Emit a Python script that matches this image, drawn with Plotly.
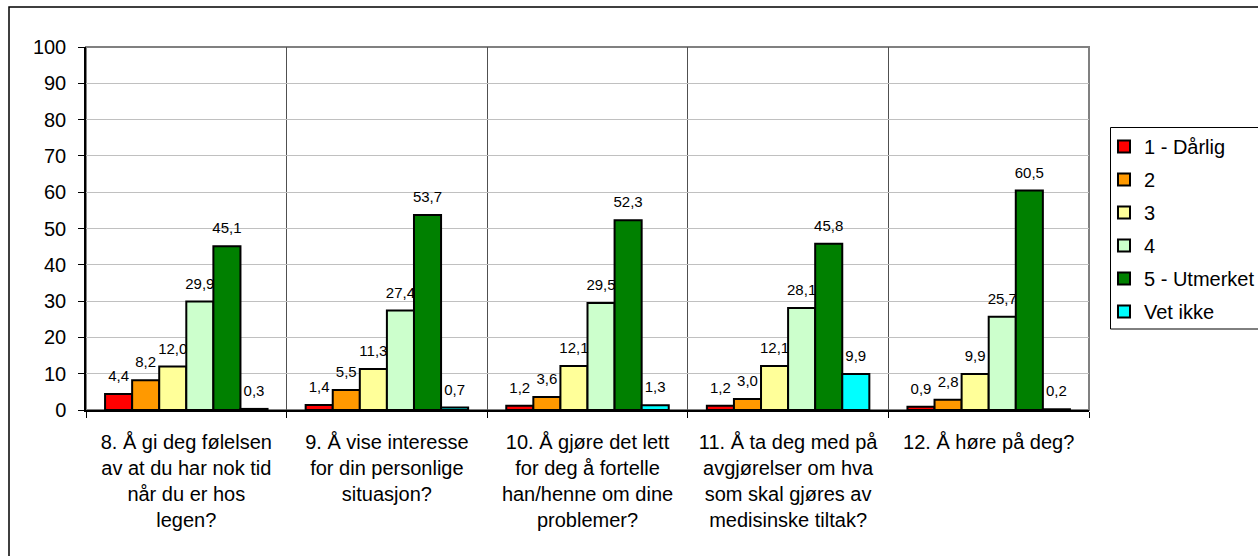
import plotly.graph_objects as go

# Survey results: share of answers (%) per question and rating
questions = [
    "8. Å gi deg følelsen<br>av at du har nok tid<br>når du er hos<br>legen?",
    "9. Å vise interesse<br>for din personlige<br>situasjon?",
    "10. Å gjøre det lett<br>for deg å fortelle<br>han/henne om dine<br>problemer?",
    "11. Å ta deg med på<br>avgjørelser om hva<br>som skal gjøres av<br>medisinske tiltak?",
    "12. Å høre på deg?",
]
series_names = ["1 - Dårlig", "2", "3", "4", "5 - Utmerket", "Vet ikke"]
series_colors = ["#FF0000", "#FF9900", "#FFFF99", "#CCFFCC", "#008000", "#00FFFF"]

rating_1 = [4.4, 1.4, 1.2, 1.2, 0.9]
rating_2 = [8.2, 5.5, 3.6, 3.0, 2.8]
rating_3 = [12.0, 11.3, 12.1, 12.1, 9.9]
rating_4 = [29.9, 27.4, 29.5, 28.1, 25.7]
rating_5 = [45.1, 53.7, 52.3, 45.8, 60.5]
dont_know = [0.3, 0.7, 1.3, 9.9, 0.2]

series_values = [rating_1, rating_2, rating_3, rating_4, rating_5, dont_know]

y_ticks = list(range(0, 101, 10))

FONT = "Arial, 'Liberation Sans', sans-serif"

# page / plot-area geometry in pixels
W, H = 1258, 556
PL, PR, PT, PB = 86, 1089, 47, 410
GAP = 0.19


def px_x(p):
    return (p - PL) / (PR - PL)


def px_y(p):
    return (PB - p) / (PB - PT)


def fmt(v):
    return f"{v:.1f}".replace(".", ",")


fig = go.Figure()
for i, (name, color, vals) in enumerate(zip(series_names, series_colors, series_values)):
    fig.add_trace(go.Bar(
        x=questions,
        y=vals,
        name=name,
        offsetgroup=str(i),
        legendgroup=f"g{i}",
        marker=dict(color=color, line=dict(color="black", width=2)),
        hoverinfo="skip",
    ))

# value labels, set a little above each bar top
for i, vals in enumerate(series_values):
    fig.add_trace(go.Scatter(
        x=questions,
        y=vals,
        mode="markers+text",
        offsetgroup=str(i),
        marker=dict(size=13, color="rgba(0,0,0,0)"),
        text=[fmt(v) for v in vals],
        textposition="top center",
        textfont=dict(family=FONT, size=15, color="black"),
        cliponaxis=False,
        showlegend=False,
        hoverinfo="skip",
    ))

shapes = [
    # outer chart frame
    dict(type="rect", xref="paper", yref="paper",
         x0=px_x(9), x1=px_x(1275), y0=px_y(575), y1=px_y(7),
         line=dict(color="black", width=1.5), layer="below"),
    # plot-area frame
    dict(type="rect", xref="paper", yref="paper",
         x0=0, x1=1, y0=0, y1=1,
         line=dict(color="#808080", width=2), layer="below"),
    # legend frame
    dict(type="rect", xref="paper", yref="paper",
         x0=px_x(1110.5), x1=px_x(1275), y0=px_y(329), y1=px_y(127.5),
         line=dict(color="black", width=1), layer="above"),
]

fig.update_layout(
    width=W, height=H,
    margin=dict(l=PL, r=W - PR, t=PT, b=H - PB, pad=0, autoexpand=False),
    paper_bgcolor="white",
    plot_bgcolor="white",
    font=dict(family=FONT, size=20, color="black"),
    barmode="group",
    bargap=GAP,
    bargroupgap=0,
    scattermode="group",
    scattergap=GAP,
    showlegend=True,
    legend=dict(
        xref="container", yref="container",
        x=1104 / W, y=1 - 127 / H, xanchor="left", yanchor="top",
        bgcolor="rgba(0,0,0,0)", borderwidth=0,
        font=dict(family=FONT, size=20, color="black"),
        tracegroupgap=4,
        traceorder="grouped",
    ),
    xaxis=dict(
        type="category",
        tickson="boundaries",
        showgrid=True, gridcolor="#505050", gridwidth=1,
        showline=True, linecolor="black", linewidth=1.5,
        ticks="outside", ticklen=6, tickcolor="black",
        tickfont=dict(family=FONT, size=20, color="black"),
        ticklabelstandoff=13,
        zeroline=False,
    ),
    yaxis=dict(
        range=[0, 100],
        tickvals=y_ticks,
        showgrid=True, gridcolor="#C0C0C0", gridwidth=1,
        showline=True, linecolor="black", linewidth=1.5,
        ticks="outside", ticklen=6, tickcolor="black",
        tickfont=dict(family=FONT, size=20, color="black"),
        ticklabelstandoff=8,
        zeroline=False,
    ),
    shapes=shapes,
)

fig.write_html("out.html")
